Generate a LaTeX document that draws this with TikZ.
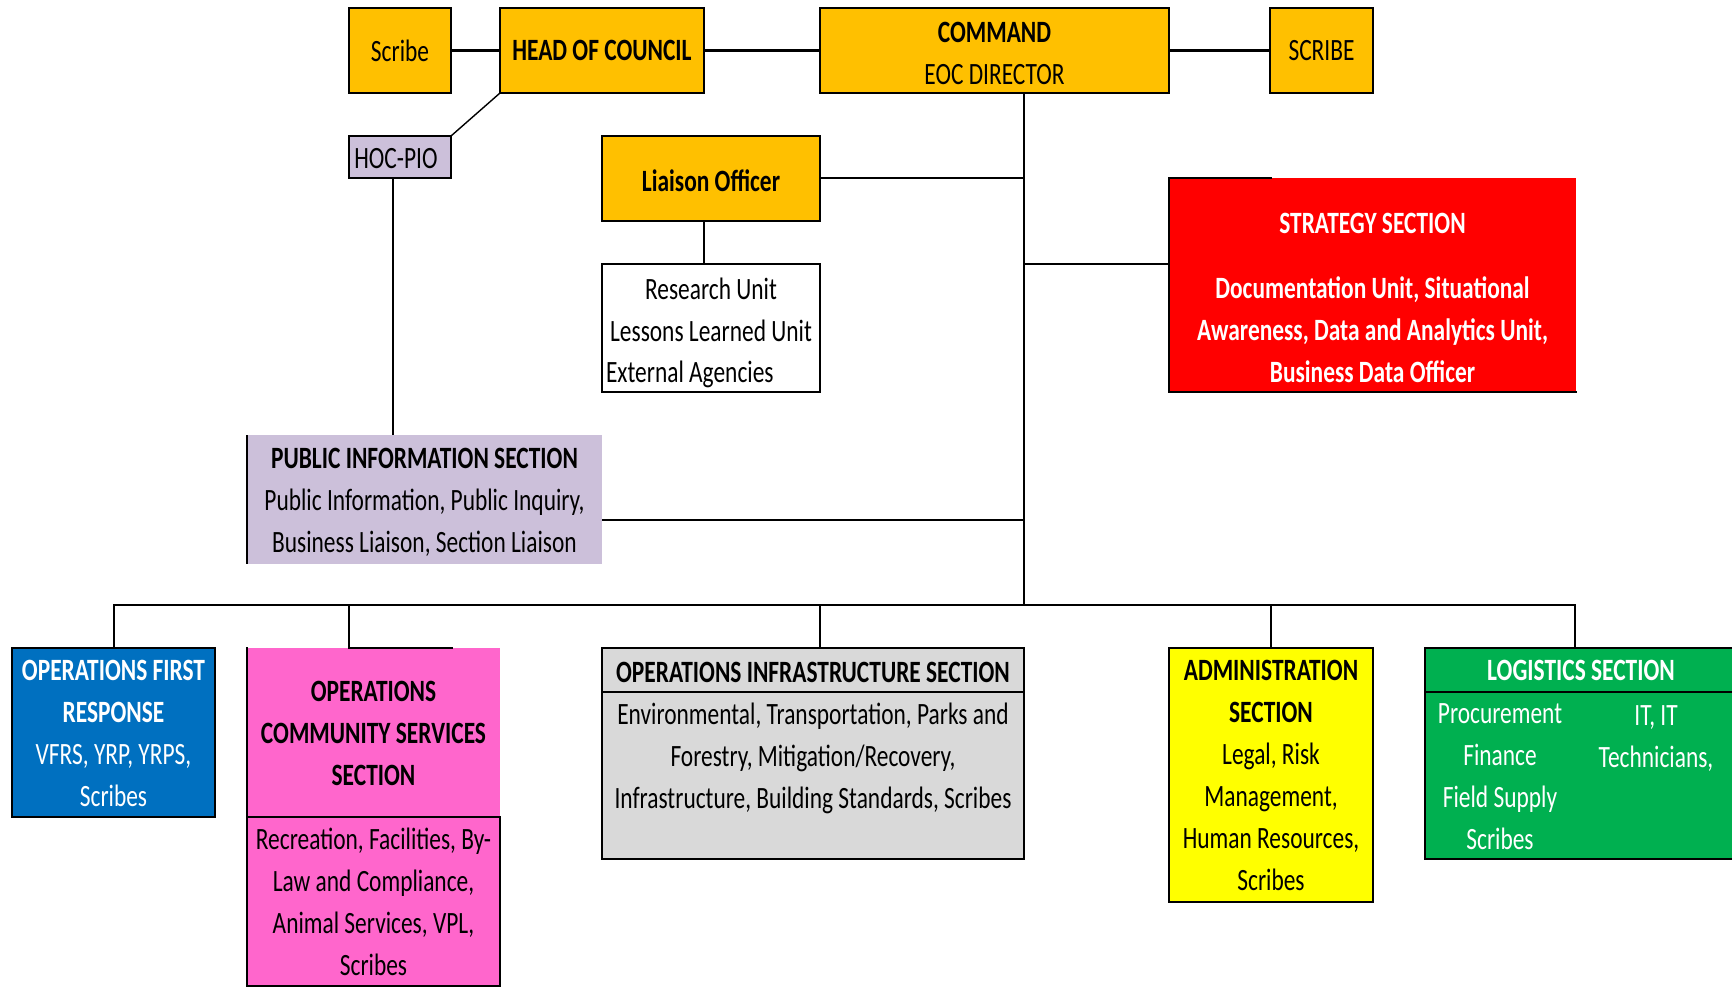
\documentclass[tikz,border=0pt]{standalone}
\usepackage{fontspec}
\setmainfont{Carlito}[FakeStretch=0.755]
\definecolor{gold}{HTML}{FFC000}
\definecolor{lav}{HTML}{CCC0DA}
\definecolor{redsec}{HTML}{FF0000}
\definecolor{bluesec}{HTML}{0070C0}
\definecolor{pinksec}{HTML}{FF66CC}
\definecolor{graysec}{HTML}{D9D9D9}
\definecolor{yellowsec}{HTML}{FFFF00}
\definecolor{greensec}{HTML}{00B050}
\tikzset{
  base/.style={rectangle, inner sep=0pt, outer sep=0pt},
  boxd/.style={base, draw=black, line width=2.5pt},
  boxf/.style={base},
  txt/.style={rectangle, inner sep=0pt, outer sep=0pt, align=center, font=\fontsize{31}{42}\selectfont, yshift=-1.5pt},
  conn/.style={draw=black, line width=2.5pt},
  thinconn/.style={draw=black, line width=1.4pt},
  edge/.style={draw=black, line width=2.5pt, line cap=rect},
}
\begin{document}
\begin{tikzpicture}[x=1pt,y=-1pt]
\useasboundingbox (0,0) rectangle (1732,988);
\fill[white] (0,0) rectangle (1732,988);

% top row
\node[boxd, fill=gold, minimum width=102pt, minimum height=85pt] (scribeL) at (400,50.5) {};
\node[txt] (scribeLt) at (400,49) {Scribe};
\node[boxd, fill=gold, minimum width=204pt, minimum height=85pt] (hoc) at (602,50.5) {};
\node[txt] (hoct) at (602,49) {\bfseries HEAD OF COUNCIL};
\node[boxd, fill=gold, minimum width=349pt, minimum height=85pt] (cmd) at (994.5,50.5) {};
\node[txt] (cmdt) at (994.5,51.5) {\bfseries COMMAND\\EOC DIRECTOR};
\node[boxd, fill=gold, minimum width=103pt, minimum height=85pt] (scribeR) at (1321.5,50.5) {};
\node[txt] (scribeRt) at (1321.5,49) {SCRIBE};

% second tier
\node[boxd, fill=lav, minimum width=102pt, minimum height=42pt] (hocpio) at (400,157) {};
\node[txt] (hocpiot) at (396,157) {HOC-PIO};
\node[boxd, fill=gold, minimum width=218pt, minimum height=85pt] (liaison) at (711,178.5) {};
\node[txt] (liaisont) at (711,179) {\bfseries Liaison Officer};
\node[boxd, fill=white, minimum width=218pt, minimum height=128pt] (research) at (711,328) {};
\node[txt] (res1) at (711,308) {Research Unit\\Lessons Learned Unit};
\node[txt, anchor=west] (res2) at (606,373) {External Agencies};

% strategy
\node[boxf, fill=redsec, minimum width=407pt, minimum height=214pt] (strategy) at (1372.5,285) {};
\coordinate (stratTopEnd) at (1271,178);
\draw[edge] (stratTopEnd) -- (strategy.north west) -- (strategy.south west) -- (strategy.south east);
\node[txt, text=white, font=\fontsize{31}{42}\selectfont\bfseries] (strattext) at (1372.5,296.5)
  {STRATEGY SECTION\\[23pt]Documentation Unit, Situational\\Awareness, Data and Analytics Unit,\\Business Data Officer};

% public information
\node[boxf, fill=lav, minimum width=355pt, minimum height=129pt] (pub) at (424.5,499.5) {};
\node[txt] (pubt) at (424.5,500.5)
  {\bfseries PUBLIC INFORMATION SECTION\\Public Information, Public Inquiry,\\Business Liaison, Section Liaison};
\draw[thinconn] (pub.north west) -- (pub.south west);

% bottom row
\node[boxd, fill=bluesec, minimum width=203pt, minimum height=169pt] (ofr) at (113.5,732.5) {};
\node[txt, text=white] (ofrt) at (113.5,731.5)
  {\bfseries OPERATIONS FIRST\\\bfseries RESPONSE\\VFRS, YRP, YRPS,\\Scribes};

\node[boxf, fill=pinksec, minimum width=253pt, minimum height=169pt] (pinkT) at (373.5,732.5) {};
\node[txt] (pinkTt) at (373.5,731.5)
  {\bfseries OPERATIONS\\\bfseries COMMUNITY SERVICES\\\bfseries SECTION};
\node[boxf, fill=pinksec, minimum width=253pt, minimum height=169pt] (pinkB) at (373.5,901.5) {};
\node[txt] (pinkBt) at (373.5,900.5)
  {Recreation, Facilities, By-\\Law and Compliance,\\Animal Services, VPL,\\Scribes};
\coordinate (pinkTopA) at (349,648);
\coordinate (pinkTopB) at (452,648);
\draw[edge] (pinkTopA) -- (pinkTopB);
\draw[edge] (pinkT.north west) -- (pinkB.south west) -- (pinkB.south east) -- (pinkB.north east) -- (pinkB.north west);

\node[boxd, fill=graysec, minimum width=422pt, minimum height=44pt] (infraH) at (813,670) {};
\node[txt] (infraHt) at (813,671) {\bfseries OPERATIONS INFRASTRUCTURE SECTION};
\node[boxd, fill=graysec, minimum width=422pt, minimum height=167pt] (infraB) at (813,775.5) {};
\node[txt] (infratext) at (813,757)
  {Environmental, Transportation, Parks and\\Forestry, Mitigation/Recovery,\\Infrastructure, Building Standards, Scribes};

\node[boxd, fill=yellowsec, minimum width=204pt, minimum height=254pt] (admin) at (1271,775) {};
\node[txt] (admint) at (1271,774)
  {\bfseries ADMINISTRATION\\\bfseries SECTION\\Legal, Risk\\Management,\\Human Resources,\\Scribes};

\node[boxf, fill=greensec, minimum width=307pt, minimum height=44pt] (logH) at (1578.5,670) {};
\node[boxf, fill=greensec, minimum width=307pt, minimum height=167pt] (logB) at (1578.5,775.5) {};
\draw[edge] (logH.north east) -- (logH.north west) -- (logB.south west) -- (logB.south east);
\draw[edge] (logH.south west) -- (logH.south east);
\node[txt, text=white, font=\fontsize{31}{42}\selectfont\bfseries] (logtitle) at (1581,669) {LOGISTICS SECTION};
\node[txt, text=white] (logL) at (1500,775) {Procurement\\Finance\\Field Supply\\Scribes};
\node[txt, text=white] (logR) at (1656,737) {IT, IT\\Technicians,};

% connectors top
\draw[conn] (scribeL.east) -- (hoc.west);
\draw[conn] (hoc.east) -- (cmd.west);
\draw[conn] (cmd.east) -- (scribeR.west);
\draw[thinconn] (hocpio.north east) -- (hoc.south west);
\draw[thinconn] ([xshift=-7pt]hocpio.south) -- ([xshift=-7pt]hocpio.south |- pub.north);
\draw[thinconn] ([xshift=-7pt]liaison.south) -- ([xshift=-7pt]research.north);

% trunk
\coordinate (jLia) at (1024,178);
\coordinate (jStr) at (1024,264);
\coordinate (jPub) at (1024,520);
\coordinate (jBus) at (1024,605);
\coordinate (bL) at (114,605);
\coordinate (bR) at (1575,605);
\coordinate (dPink) at (349,605);
\coordinate (dInfra) at (820,605);
\coordinate (dAdmin) at (1271,605);
\draw[conn] (cmd.south -| jBus) -- (jBus);
\draw[conn] (liaison.east |- jLia) -- (jLia);
\draw[conn] (jStr) -- (jStr -| strategy.west);
\draw[conn] (pub.east |- jPub) -- (jPub);
\draw[conn, line cap=rect] (bL) -- (bR);
\draw[conn] (bL) -- (bL |- ofr.north);
\draw[conn] (dPink) -- (dPink |- pinkT.north);
\draw[conn] (dInfra) -- (dInfra |- infraH.north);
\draw[conn] (dAdmin) -- (dAdmin |- admin.north);
\draw[conn] (bR) -- (bR |- logH.north);
\end{tikzpicture}
\end{document}
